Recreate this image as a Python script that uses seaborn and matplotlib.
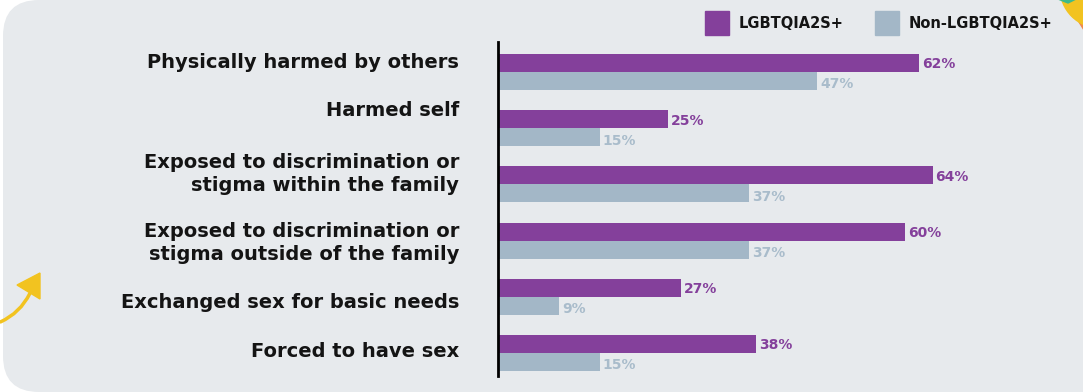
import matplotlib
matplotlib.use("Agg")
import matplotlib.pyplot as plt
import matplotlib.transforms as mtransforms
import seaborn as sns
import pandas as pd
import numpy as np
from matplotlib.patches import FancyBboxPatch, Polygon, Circle, FancyArrowPatch, Rectangle

categories = [
    "Physically harmed by others",
    "Harmed self",
    "Exposed to discrimination or\nstigma within the family",
    "Exposed to discrimination or\nstigma outside of the family",
    "Exchanged sex for basic needs",
    "Forced to have sex",
]
lgbt_values = [62, 25, 64, 60, 27, 38]
non_lgbt_values = [47, 15, 37, 37, 9, 15]
series_names = ["LGBTQIA2S+", "Non-LGBTQIA2S+"]

# layout: vertical shift (px, upward) of each category label in the original design
label_shift_px = [11.5, 20, 14.5, 2, -4, 3]

PURPLE = "#84409b"
GRAY = "#a3b7c7"
GRAY_TXT = "#a9bccb"
BG = "#e7eaed"
TXT = "#141414"
YELLOW = "#f2c320"

df = pd.DataFrame({
    "category": categories * 2,
    "value": lgbt_values + non_lgbt_values,
    "group": [series_names[0]] * len(categories) + [series_names[1]] * len(categories),
})

sns.set_theme(style="white")
plt.rcParams["font.family"] = ["DejaVu Sans"]

W, H = 1083, 392
fig = plt.figure(figsize=(W / 100, H / 100), dpi=100)
fig.patch.set_facecolor("white")

# background / decoration axes in pixel coordinates
bg = fig.add_axes([0, 0, 1, 1])
bg.set_xlim(0, W)
bg.set_ylim(H, 0)
bg.axis("off")
bg.add_patch(FancyBboxPatch((3, 0), 1140, 392, boxstyle="round,pad=0,rounding_size=36",
                            facecolor=BG, edgecolor="none", zorder=1))
# decorations at top right
bg.add_patch(Circle((1100, -12), 40, color=YELLOW, zorder=1.5))
bg.add_patch(Polygon([(1058, -1), (1076, -1), (1068, 3)], closed=True, color="#3dba8a", zorder=1.8))
bg.add_patch(Polygon([(1079, 22), (1084, 14), (1084, 30)], closed=True, color="#f08a4b", zorder=1.4))
# yellow arrow
arr = FancyArrowPatch((-2, 323), (31, 291), connectionstyle="arc3,rad=0.2",
                      arrowstyle="-", color=YELLOW, lw=2.5, zorder=2)
bg.add_patch(arr)
bg.add_patch(Polygon([(17, 285), (40, 273), (40, 299)], closed=True, color=YELLOW, zorder=2))

# legend
bg.add_patch(Rectangle((705, 11), 24, 24, color=PURPLE, zorder=2))
bg.text(739, 23, series_names[0], fontsize=10.5, fontweight="bold", color=TXT, va="center", ha="left", zorder=3)
bg.add_patch(Rectangle((875, 11), 24, 24, color=GRAY, zorder=2))
bg.text(909, 23, series_names[1], fontsize=10.5, fontweight="bold", color=TXT, va="center", ha="left", zorder=3)

# main axes
x0, x1, ytop, ybot = 498, 1083, 42, 376
ax = fig.add_axes([x0 / W, 1 - ybot / H, (x1 - x0) / W, (ybot - ytop) / H])
ax.patch.set_alpha(0)
sns.barplot(data=df, y="category", x="value", hue="group", orient="h",
            palette=[PURPLE, GRAY], width=0.64, saturation=1, legend=False,
            linewidth=0, edgecolor="none", ax=ax)
ax.set_xlim(0, (x1 - x0) / 6.79)
ax.set_ylim(5.41, -0.534)
ax.set_xlabel("")
ax.set_ylabel("")
ax.set_xticks([])
for s in ["top", "right", "bottom"]:
    ax.spines[s].set_visible(False)
ax.spines["left"].set_color("black")
ax.spines["left"].set_linewidth(2)
ax.tick_params(axis="y", length=0, pad=28)
ax.set_yticks(range(len(categories)))
ax.set_yticklabels(categories, fontsize=14, fontweight="bold", color=TXT, linespacing=1.3)
for lbl, dy in zip(ax.get_yticklabels(), label_shift_px):
    lbl.set_transform(lbl.get_transform() + mtransforms.ScaledTranslation(0, dy / 100, fig.dpi_scale_trans))

for i, (a, b) in enumerate(zip(lgbt_values, non_lgbt_values)):
    ax.annotate(f"{a}%", (a, i - 0.16), xytext=(2, -1), textcoords="offset points",
                ha="left", va="center", fontsize=10, fontweight="bold", color=PURPLE)
    ax.annotate(f"{b}%", (b, i + 0.16), xytext=(2, -2.5), textcoords="offset points",
                ha="left", va="center", fontsize=10, fontweight="bold", color=GRAY_TXT)

fig.savefig("out.png", dpi=100, facecolor="white")
